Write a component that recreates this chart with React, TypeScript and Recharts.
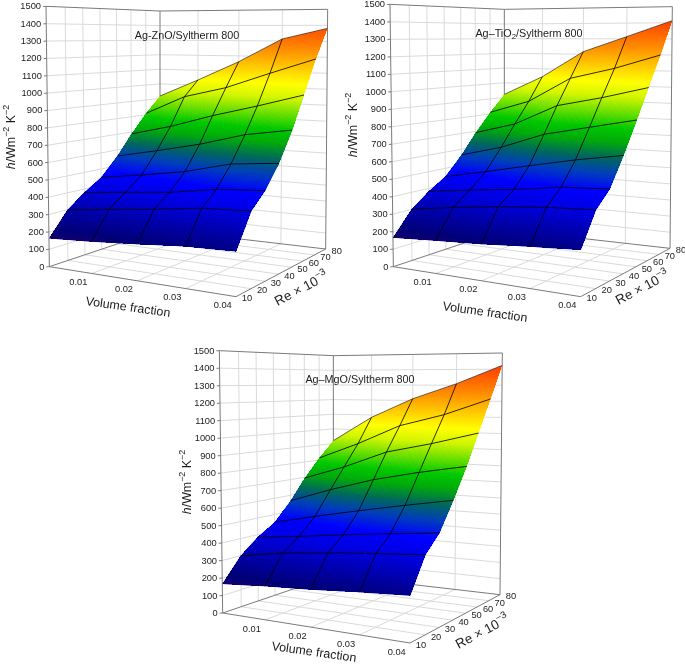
import React from 'react';
import { ScatterChart, Scatter, XAxis, YAxis } from 'recharts';

const RE_VALUES = [10, 20, 30, 40, 50, 60, 70, 80];
const PHI_LABELS = ['', '0.01', '0.02', '0.03', '0.04'];
const H_TICKS = [0, 100, 200, 300, 400, 500, 600, 700, 800, 900, 1000, 1100, 1200, 1300, 1400, 1500];
// h per Re row (10..80) and volume-fraction column
const H_ZNO = [
  [163, 178, 198, 221, 230], [299, 331, 360, 395, 409], [379, 405, 431, 474, 492], [448, 485, 528, 595, 619],
  [561, 614, 672, 747, 790], [688, 752, 834, 906, 983], [810, 932, 1000, 1099, 1193], [917, 1034, 1162, 1313, 1381],
];
const H_TIO2 = [
  [166, 182, 197, 219, 236], [300, 340, 372, 397, 411], [382, 415, 444, 481, 496], [449, 501, 558, 612, 657],
  [564, 630, 726, 783, 839], [691, 761, 888, 947, 1016], [811, 894, 1050, 1118, 1204], [921, 1047, 1216, 1314, 1413],
];
const H_MGO = [
  [166, 186, 202, 223, 240], [300, 343, 372, 397, 419], [385, 414, 449, 480, 509], [451, 510, 565, 617, 665],
  [566, 653, 731, 790, 839], [696, 781, 887, 949, 1021], [814, 919, 1043, 1118, 1218], [920, 1084, 1211, 1309, 1423],
];
const TITLES = ['Ag-ZnO/Syltherm 800', 'Ag\u2013TiO_{2}/Syltherm 800', 'Ag\u2013MgO/Syltherm 800'];
const Y_TITLE = '*h*/Wm^{\u22122} K^{\u22122}';
const X_TITLE = 'Volume fraction';
const Z_TITLE = 'Re \u00d7 10^{\u22123}';

// axis position fractions on the 3-D box (perspective spacing)
const U_POS = [0, 0.227, 0.471, 0.73, 1];
const V_POS = [0, 0.168, 0.322, 0.473, 0.618, 0.745, 0.875, 1];

type P = [number, number];
type Box = { FL: P; FR: P; BR: P; BL: P; TL: P; TFR: P; TBR: P; TBL: P };
const mk = (ox: number, oy: number, a: number[][]): Box => {
  const q = a.map((c) => [c[0] / 3 + ox, c[1] / 3 + oy] as P);
  return { FL: q[0], FR: q[1], BR: q[2], BL: q[3], TL: q[4], TFR: q[5], TBR: q[6], TBL: q[7] };
};
const PANELS = [
  { h: H_ZNO, title: 0, box: mk(0, 0, [[148, 800], [708, 890], [977, 747], [480, 689], [138, 19], [712, 8], [983, 28], [480, 33]]),
    tt: [187, 35], xt: [128, 307], zt: [301, 288], yt: [11, 137] },
  { h: H_TIO2, title: 1, box: mk(340, 0, [[160, 800], [722, 890], [990, 745], [493, 689], [150, 13], [726, 2], [997, 20], [493, 28]]),
    tt: [529, 33], xt: [485, 312], zt: [642, 287], yt: [353, 125] },
  { h: H_MGO, title: 2, box: mk(170, 338, [[158, 825], [720, 915], [990, 770], [490, 712], [148, 38], [725, 27], [997, 45], [490, 53]]),
    tt: [360, 379], xt: [314, 652], zt: [482, 631], yt: [187, 482] },
];

const mix = (a: number, b: number, t: number) => a + (b - a) * t;
const bil = (b: Box, top: boolean, u: number, v: number): P => {
  const [a, c, d, e] = top ? [b.TL, b.TFR, b.TBR, b.TBL] : [b.FL, b.FR, b.BR, b.BL];
  return [
    mix(mix(a[0], c[0], u), mix(e[0], d[0], u), v),
    mix(mix(a[1], c[1], u), mix(e[1], d[1], u), v),
  ];
};
const project = (b: Box, u: number, v: number, h: number) => {
  const f = bil(b, false, u, v);
  const t = bil(b, true, u, v);
  const w = h / 1500;
  return { x: mix(f[0], t[0], w), y: mix(f[1], t[1], w) };
};

const STOPS: [number, number[]][] = [
  [150, [26, 0, 104]], [210, [0, 0, 120]], [300, [0, 0, 168]], [400, [0, 0, 224]], [480, [0, 0, 255]],
  [560, [0, 60, 190]], [640, [0, 105, 90]], [720, [0, 170, 10]], [790, [0, 200, 0]], [860, [90, 220, 0]],
  [960, [210, 245, 0]], [1040, [255, 255, 0]], [1130, [255, 205, 0]], [1250, [255, 140, 0]], [1420, [255, 60, 0]],
];
const colorOf = (h: number) => {
  if (h <= STOPS[0][0]) return `rgb(${STOPS[0][1].join(',')})`;
  for (let i = 1; i < STOPS.length; i++) {
    if (h <= STOPS[i][0]) {
      const t = (h - STOPS[i - 1][0]) / (STOPS[i][0] - STOPS[i - 1][0]);
      const c = STOPS[i][1].map((s, k) => Math.round(mix(STOPS[i - 1][1][k], s, t)));
      return `rgb(${c.join(',')})`;
    }
  }
  return `rgb(${STOPS[STOPS.length - 1][1].join(',')})`;
};

const NoDot = () => <g />;

const seg = (key: string, pts: { x: number; y: number }[], stroke: string, w: number) => (
  <Scatter key={key} data={pts} shape={NoDot as any} isAnimationActive={false} line={{ stroke, strokeWidth: w, fill: 'none' } as any} />
);

const cellPainter = (hs: number[]) => (props: any) => {
  const [a, b, c, d] = props.points as { x: number; y: number }[];
  const NU = Math.max(4, Math.ceil(Math.hypot(b.x - a.x, b.y - a.y) / 3));
  const NV = Math.max(6, Math.ceil(Math.hypot(d.x - a.x, d.y - a.y) / 1.3));
  const at = (s: number, t: number) => ({
    x: mix(mix(a.x, b.x, s), mix(d.x, c.x, s), t),
    y: mix(mix(a.y, b.y, s), mix(d.y, c.y, s), t),
  });
  const out: React.ReactNode[] = [];
  for (let i = 0; i < NU; i++) {
    for (let j = 0; j < NV; j++) {
      const s0 = i / NU, s1 = (i + 1) / NU, t0 = j / NV, t1 = (j + 1) / NV;
      const h = mix(mix(hs[0], hs[1], (s0 + s1) / 2), mix(hs[3], hs[2], (s0 + s1) / 2), (t0 + t1) / 2);
      const q = [at(s0, t0), at(s1, t0), at(s1, t1), at(s0, t1)].map((p) => `${p.x.toFixed(1)},${p.y.toFixed(1)}`).join(' ');
      out.push(<polygon key={`${i}-${j}`} points={q} fill={colorOf(h)} />);
    }
  }
  const base = [a, b, c, d].map((p) => `${p.x.toFixed(2)},${p.y.toFixed(2)}`).join(' ');
  const mean = (hs[0] + hs[1] + hs[2] + hs[3]) / 4;
  return (
    <g>
      <polygon points={base} fill={colorOf(mean)} />
      <g shapeRendering="crispEdges">{out}</g>
    </g>
  );
};

const Rich = ({ s, size }: { s: string; size: number }) => {
  const parts = s.split(/(\^\{[^}]*\}|_\{[^}]*\}|\*[^*]*\*)/).filter(Boolean);
  const out: React.ReactNode[] = [];
  let back = 0;
  parts.forEach((p, i) => {
    if (p[0] === '^' || p[0] === '_') {
      const up = p[0] === '^';
      const d = up ? -size * 0.38 : size * 0.28;
      out.push(<tspan key={i} dy={d + back} fontSize={size * 0.72}>{p.slice(2, -1)}</tspan>);
      back = -d;
    } else if (p[0] === '*') {
      out.push(<tspan key={i} dy={back} fontStyle="italic">{p.slice(1, -1)}</tspan>);
      back = 0;
    } else {
      out.push(<tspan key={i} dy={back}>{p}</tspan>);
      back = 0;
    }
  });
  return <>{out}</>;
};

const TextDot = (props: any) => {
  const { cx, cy, payload } = props;
  const { label, size, anchor, rot } = payload;
  return (
    <text x={cx} y={cy} fontSize={size} textAnchor={anchor} dominantBaseline="central" fontFamily="'Liberation Sans', Arial, sans-serif" fill="#1c1c1c"
      transform={rot ? `rotate(${rot} ${cx} ${cy})` : undefined}>
      <Rich s={label} size={size} />
    </text>
  );
};

const walls = (p: (typeof PANELS)[number], pi: number) => {
  const b = p.box;
  const out: React.ReactNode[] = [];
  const G = '#dadada';
  const E = '#7a7a7a';
  H_TICKS.forEach((h, i) => {
    if (i > 0 && i < H_TICKS.length - 1) {
      out.push(seg(`w${pi}l${i}`, [project(b, 0, 0, h), project(b, 0, 1, h), project(b, 1, 1, h)], G, 1));
    }
  });
  V_POS.forEach((v, i) => {
    if (i > 0 && i < V_POS.length - 1) {
      out.push(seg(`w${pi}v${i}`, [project(b, 0, v, 0), project(b, 0, v, 1500)], G, 1));
      out.push(seg(`w${pi}f${i}`, [project(b, 0, v, 0), project(b, 1, v, 0)], G, 1));
    }
  });
  U_POS.forEach((u, i) => {
    if (i > 0 && i < U_POS.length - 1) {
      out.push(seg(`w${pi}u${i}`, [project(b, u, 1, 0), project(b, u, 1, 1500)], G, 1));
      out.push(seg(`w${pi}g${i}`, [project(b, u, 0, 0), project(b, u, 1, 0)], G, 1));
    }
  });
  out.push(seg(`w${pi}e1`, [project(b, 0, 1, 0), project(b, 0, 1, 1500)], E, 1));
  out.push(seg(`w${pi}e2`, [project(b, 0, 0, 1500), project(b, 0, 1, 1500), project(b, 1, 1, 1500), project(b, 1, 1, 0)], E, 1));
  out.push(seg(`w${pi}e3`, [project(b, 0, 0, 1500), project(b, 0, 0, 0), project(b, 1, 0, 0), project(b, 1, 1, 0), project(b, 0, 1, 0), project(b, 0, 0, 0)], E, 1));
  H_TICKS.forEach((h, i) => {
    const q = project(b, 0, 0, h);
    out.push(seg(`w${pi}t${i}`, [q, { x: q.x - 3, y: q.y + 0.2 }], E, 1));
  });
  return out;
};

const surface = (p: (typeof PANELS)[number], pi: number) => {
  const b = p.box;
  const node = (r: number, c: number) => project(b, U_POS[c], V_POS[r], p.h[r][c]);
  const out: React.ReactNode[] = [];
  for (let r = RE_VALUES.length - 2; r >= 0; r--) {
    for (let c = 0; c < U_POS.length - 1; c++) {
      const pts = [node(r, c), node(r, c + 1), node(r + 1, c + 1), node(r + 1, c)];
      const hs = [p.h[r][c], p.h[r][c + 1], p.h[r + 1][c + 1], p.h[r + 1][c]];
      out.push(<Scatter key={`s${pi}-${r}-${c}`} data={pts} shape={NoDot as any} isAnimationActive={false} line={cellPainter(hs) as any} />);
    }
  }
  RE_VALUES.forEach((_, r) => {
    if (r > 0) {
      out.push(seg(`r${pi}-${r}`, U_POS.map((_u, c) => node(r, c)), r === 7 ? '#444' : '#000', 0.8));
    }
  });
  U_POS.forEach((_u, c) => {
    if (c > 0 && c < U_POS.length - 1) {
      out.push(seg(`c${pi}-${c}`, RE_VALUES.map((_, r) => node(r, c)), '#000', 0.8));
    }
  });
  return out;
};

const texts = (p: (typeof PANELS)[number], pi: number) => {
  const b = p.box;
  const rows: any[] = [];
  H_TICKS.forEach((h) => {
    const q = project(b, 0, 0, h);
    rows.push({ x: q.x - 5, y: q.y, label: String(h), size: 9.3, anchor: 'end', rot: 0 });
  });
  PHI_LABELS.forEach((l, c) => {
    if (!l) return;
    const q = project(b, U_POS[c], 0, 0);
    rows.push({ x: q.x - 13.3, y: q.y + 8.7, label: l, size: 9.3, anchor: 'middle', rot: 0 });
  });
  RE_VALUES.forEach((re, r) => {
    const q = project(b, 1, V_POS[r], 0);
    rows.push({ x: q.x + 11, y: q.y + 1.8, label: String(re), size: 9.3, anchor: 'middle', rot: 0 });
  });
  rows.push({ x: p.tt[0], y: p.tt[1], label: TITLES[p.title], size: 10.8, anchor: 'middle', rot: 0 });
  rows.push({ x: p.xt[0], y: p.xt[1], label: X_TITLE, size: 12.4, anchor: 'middle', rot: 8 });
  rows.push({ x: p.zt[0], y: p.zt[1], label: Z_TITLE, size: 13.4, anchor: 'middle', rot: -28 });
  rows.push({ x: p.yt[0], y: p.yt[1], label: Y_TITLE, size: 12.4, anchor: 'middle', rot: -90 });
  return <Scatter key={`t${pi}`} data={rows} shape={TextDot as any} isAnimationActive={false} />;
};

export default function App() {
  return (
    <div style={{ position: 'absolute', left: 0, top: 0, filter: 'blur(0.3px)' }}>
      <ScatterChart width={685} height={668} margin={{ top: 0, right: 0, bottom: 0, left: 0 }}>
        <XAxis type="number" dataKey="x" domain={[0, 685]} hide />
        <YAxis type="number" dataKey="y" domain={[0, 668]} reversed hide />
        {PANELS.map((p, i) => walls(p, i))}
        {PANELS.map((p, i) => surface(p, i))}
        {PANELS.map((p, i) => texts(p, i))}
      </ScatterChart>
    </div>
  );
}
